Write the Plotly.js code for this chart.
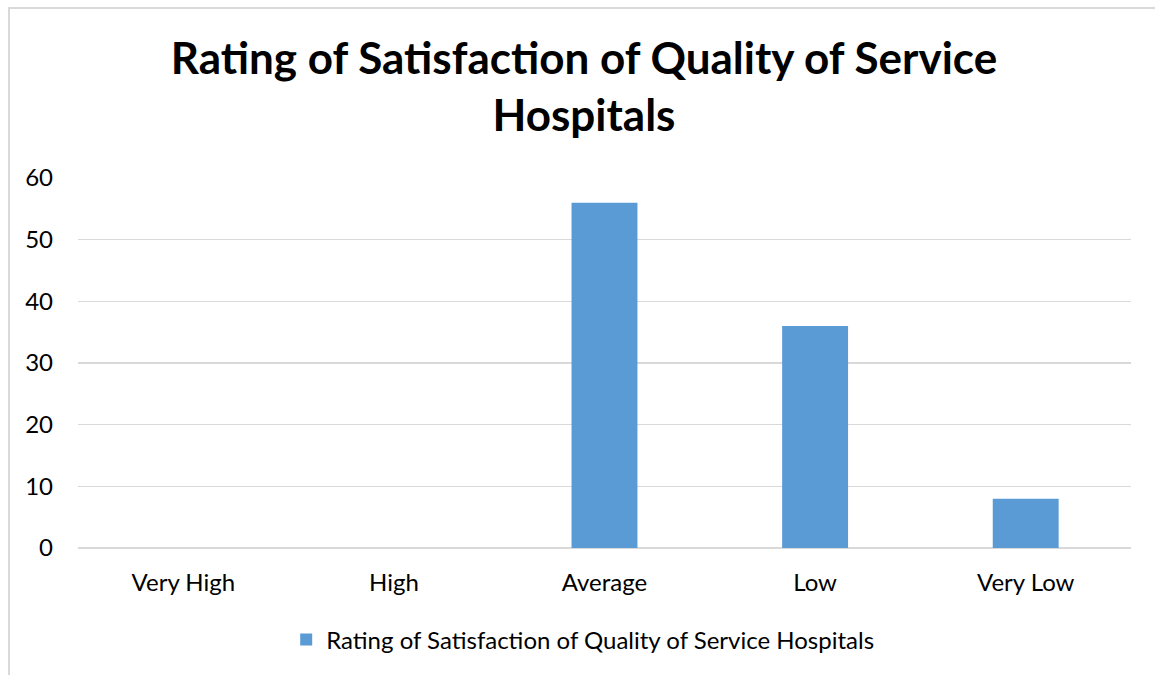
<!DOCTYPE html>
<html>
<head>
<meta charset="utf-8">
<script src="https://cdn.plot.ly/plotly-3.0.1.min.js"></script>
<style>
  html, body { margin: 0; padding: 0; background: #ffffff; }
  #wrap { position: relative; width: 1155px; height: 675px; overflow: hidden; }
  #chart { position: absolute; left: 0; top: 0; width: 1155px; height: 675px; }
  #frame { position: absolute; left: 8px; top: 7px; width: 1200px; height: 700px;
           border-left: 2px solid #d9d9d9; border-top: 2px solid #d9d9d9; pointer-events: none; }
</style>
</head>
<body>
<div id="wrap">
  <div id="chart"></div>
  <div id="frame"></div>
</div>
<script>
// Satisfaction ratings for service hospitals
const categories = ["Very High", "High", "Average", "Low", "Very Low"];
const ratings = [0, 0, 56, 36, 8];
const seriesName = "Rating of Satisfaction of Quality of Service Hospitals";
const yTicks = [0, 10, 20, 30, 40, 50, 60];

const font = "Lato, 'Open Sans', sans-serif";

const trace = {
  type: "bar",
  x: categories,
  y: ratings,
  name: seriesName,
  marker: { color: "#5b9bd5" },
  showlegend: true,
  hoverinfo: "x+y"
};

const layout = {
  width: 1155,
  height: 675,
  paper_bgcolor: "#ffffff",
  plot_bgcolor: "#ffffff",
  margin: { l: 78, r: 24, t: 178, b: 127 },
  bargap: 0.687,
  font: { family: font, color: "#000000", size: 24 },
  title: {
    text: "<b>Rating of Satisfaction of Quality of Service<br>Hospitals</b>",
    font: { family: font, size: 44, color: "#000000" },
    xref: "container", x: 0.5056, xanchor: "center",
    yref: "container", y: 0.890, yanchor: "middle"
  },
  xaxis: {
    type: "category",
    showgrid: false,
    zeroline: false,
    showline: false,
    ticks: "",
    ticklabelstandoff: 18,
    tickfont: { family: font, size: 24, color: "#000000" }
  },
  yaxis: {
    range: [0, 60],
    tickvals: yTicks,
    showgrid: true,
    gridcolor: "#d9d9d9",
    gridwidth: 1.3,
    zeroline: true,
    zerolinecolor: "#d9d9d9",
    zerolinewidth: 1.3,
    showline: false,
    ticks: "",
    ticklabelstandoff: 24,
    tickfont: { family: font, size: 24, color: "#000000" }
  },
  legend: {
    orientation: "h",
    xref: "container", x: 0.5045, xanchor: "center",
    yref: "container", y: 0.052, yanchor: "middle",
    font: { family: font, size: 24, color: "#000000" },
    itemwidth: 30
  },
  showlegend: true
};

Plotly.newPlot("chart", [trace], layout, { displayModeBar: false, staticPlot: true });
</script>
</body>
</html>
